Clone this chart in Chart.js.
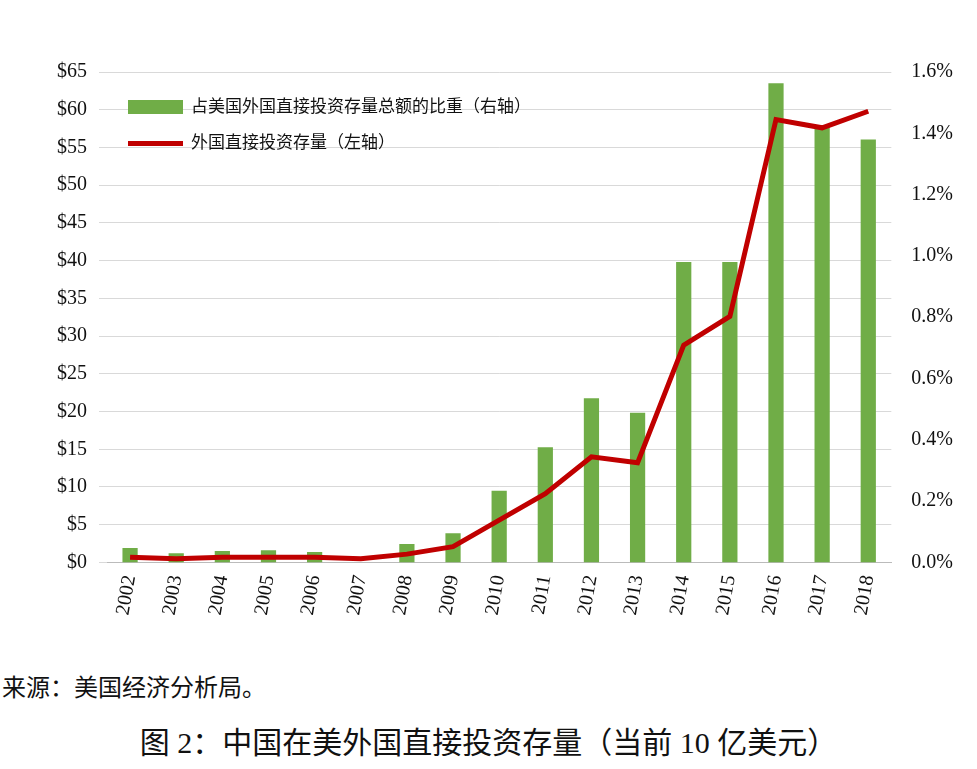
<!DOCTYPE html>
<html>
<head>
<meta charset="utf-8">
<script src="https://cdn.jsdelivr.net/npm/chart.js@4"></script>
<style>
body { margin: 0; background: #fff; font-family: "Liberation Serif", "Noto Sans CJK SC", serif; }
#wrap { position: relative; width: 977px; height: 620px; }
.legend { position: absolute; left: 128px; font-family: "Noto Sans CJK SC"; font-size: 17px; color: #111; }
.legend span { display: inline-block; width: 55px; margin-right: 8px; vertical-align: middle; }
.source { position: absolute; left: 2px; top: 668px; font-size: 24px; color: #111; }
.title { position: absolute; left: 0; width: 977px; top: 718px; text-align: center; font-size: 30px; color: #111; }
</style>
</head>
<body>
<div id="wrap"><canvas id="chart"></canvas></div>
<div class="legend" style="top:92px"><span style="height:14px;background:#70ad47"></span>占美国外国直接投资存量总额的比重（右轴）</div>
<div class="legend" style="top:128px"><span style="height:5px;background:#c00000"></span>外国直接投资存量（左轴）</div>
<div class="source">来源：美国经济分析局。</div>
<div class="title">图 2：中国在美外国直接投资存量（当前 10 亿美元）</div>
<script>
'use strict';

var years = ['2002', '2003', '2004', '2005', '2006', '2007', '2008', '2009', '2010',
    '2011', '2012', '2013', '2014', '2015', '2016', '2017', '2018'];
// share of total US FDI stock, percent (right axis)
var sharePct = [0.047, 0.03, 0.037, 0.04, 0.034, 0.0, 0.06, 0.095, 0.234,
    0.376, 0.536, 0.488, 0.98, 0.98, 1.563, 1.427, 1.38];
// FDI stock, billions USD (left axis)
var stockBn = [0.7, 0.5, 0.7, 0.7, 0.7, 0.5, 1.1, 2.1, 5.6,
    9.1, 14.0, 13.2, 28.8, 32.6, 58.7, 57.6, 59.8];

var tickFont = { family: 'Liberation Serif', size: 20 };

var ctx = document.getElementById('chart').getContext('2d');
new Chart(ctx, {
    data: {
        labels: years,
        datasets: [{
            type: 'line',
            data: stockBn,
            yAxisID: 'y',
            borderColor: '#c00000',
            borderWidth: 5,
            pointRadius: 0,
            order: 0
        }, {
            type: 'bar',
            data: sharePct,
            yAxisID: 'y1',
            backgroundColor: '#70ad47',
            barPercentage: 0.6,
            categoryPercentage: 0.55,
            order: 1
        }]
    },
    options: {
        responsive: true,
        maintainAspectRatio: false,
        animation: false,
        layout: { padding: { top: 72, left: 45, right: 12 } },
        plugins: {
            legend: { display: false },
            tooltip: { enabled: false }
        },
        scales: {
            x: {
                grid: { display: false },
                border: { color: '#bbb' },
                ticks: { color: '#111', font: tickFont, maxRotation: 80, minRotation: 80 }
            },
            y: {
                position: 'left',
                min: 0, max: 65,
                ticks: { stepSize: 5, color: '#111', font: tickFont, padding: 12, callback: function (v) { return '$' + v; } },
                grid: { color: '#d9d9d9' },
                border: { display: false }
            },
            y1: {
                position: 'right',
                min: 0, max: 1.6,
                ticks: { stepSize: 0.2, color: '#111', font: tickFont, padding: 12, callback: function (v) { return v.toFixed(1) + '%'; } },
                grid: { display: false },
                border: { display: false }
            }
        }
    }
});
</script>
</body>
</html>
